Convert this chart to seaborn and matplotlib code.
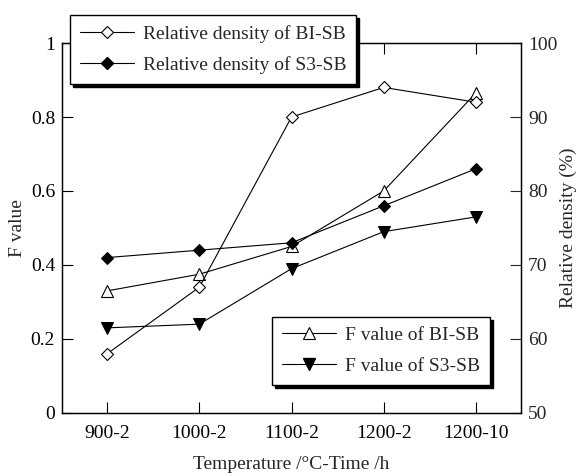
import matplotlib
matplotlib.use("Agg")
import matplotlib.pyplot as plt
import seaborn as sns
import pandas as pd
from matplotlib.lines import Line2D

categories = ["900-2", "1000-2", "1100-2", "1200-2", "1200-10"]
f_bi = [0.33, 0.375, 0.45, 0.60, 0.865]
f_s3 = [0.23, 0.24, 0.39, 0.49, 0.53]
rd_bi = [58, 67, 90, 94, 92]
rd_s3 = [71, 72, 73, 78, 83]

sns.set_theme(style="white")
plt.rcParams["font.family"] = ["Liberation Serif", "DejaVu Serif"]
plt.rcParams["font.size"] = 14

fig = plt.figure(figsize=(5.77, 4.73), dpi=100)
ax = fig.add_axes([0.1075, 0.127, 0.7955, 0.782])
ax2 = ax.twinx()

x = list(range(len(categories)))
df = pd.DataFrame({"x": x, "f_bi": f_bi, "f_s3": f_s3, "rd_bi": rd_bi, "rd_s3": rd_s3})

lw = 0.8
sns.lineplot(data=df, x="x", y="f_bi", ax=ax, color="black", lw=lw, marker="^",
             markersize=9, markerfacecolor="white", markeredgecolor="black", markeredgewidth=0.8)
sns.lineplot(data=df, x="x", y="f_s3", ax=ax, color="black", lw=lw, marker="v",
             markersize=9, markerfacecolor="black", markeredgecolor="black")
sns.lineplot(data=df, x="x", y="rd_bi", ax=ax2, color="black", lw=lw, marker="D",
             markersize=6.5, markerfacecolor="white", markeredgecolor="black", markeredgewidth=0.8)
sns.lineplot(data=df, x="x", y="rd_s3", ax=ax2, color="black", lw=lw, marker="D",
             markersize=6.5, markerfacecolor="black", markeredgecolor="black")

ax.set_xlim(-0.49, 4.49)
ax.set_ylim(0, 1)
ax2.set_ylim(50, 100)
ax.set_xticks(x)
ax.set_xticklabels(categories)
ax.set_yticks([0, 0.2, 0.4, 0.6, 0.8, 1.0])
ax.set_yticklabels(["0", "0.2", "0.4", "0.6", "0.8", "1"])
ax2.set_yticks([50, 60, 70, 80, 90, 100])

ax.set_xlabel("Temperature /°C-Time /h", fontsize=14)
ax.set_ylabel("F value", fontsize=14)
ax2.set_ylabel("Relative density (%)", fontsize=14)
ax.xaxis.set_label_coords(0.5, -0.116)
ax.yaxis.set_label_coords(-0.078, 0.5)
ax2.yaxis.set_label_coords(1.085, 0.5)

ax.tick_params(axis="both", direction="in", length=8, width=0.8, labelsize=14,
               top=True, bottom=True, left=True, right=False, pad=5, colors="black")
ax.tick_params(axis="x", pad=9)
ax2.tick_params(axis="y", direction="in", length=8, width=0.8, labelsize=14, right=True, pad=5)
for a in (ax, ax2):
    for s in a.spines.values():
        s.set_color("black")
        s.set_linewidth(0.9)

h_rd_bi = Line2D([], [], color="black", lw=lw, marker="D", markersize=6.5,
                 markerfacecolor="white", markeredgecolor="black", markeredgewidth=0.8)
h_rd_s3 = Line2D([], [], color="black", lw=lw, marker="D", markersize=6.5,
                 markerfacecolor="black", markeredgecolor="black")
h_f_bi = Line2D([], [], color="black", lw=lw, marker="^", markersize=9,
                markerfacecolor="white", markeredgecolor="black", markeredgewidth=0.8)
h_f_s3 = Line2D([], [], color="black", lw=lw, marker="v", markersize=9,
                markerfacecolor="black", markeredgecolor="black")

shadow = {"color": "black", "alpha": 1}
common = dict(frameon=True, fancybox=False, shadow=shadow, framealpha=1, edgecolor="black",
              handlelength=2.8, handletextpad=0.45, borderpad=0.5, labelspacing=0.7,
              borderaxespad=0, fontsize=14, bbox_transform=fig.transFigure)
leg1 = ax2.legend([h_rd_bi, h_rd_s3], ["Relative density of BI-SB", "Relative density of S3-SB"],
                  loc="upper left", bbox_to_anchor=(0.121, 0.968), **common)
leg1.get_frame().set_linewidth(1.0)
ax2.add_artist(leg1)
leg2 = ax2.legend([h_f_bi, h_f_s3], ["F value of BI-SB", "F value of S3-SB"],
                  loc="lower right", bbox_to_anchor=(0.849, 0.186), **common)
leg2.get_frame().set_linewidth(1.0)

fig.savefig("out.png", dpi=100)
